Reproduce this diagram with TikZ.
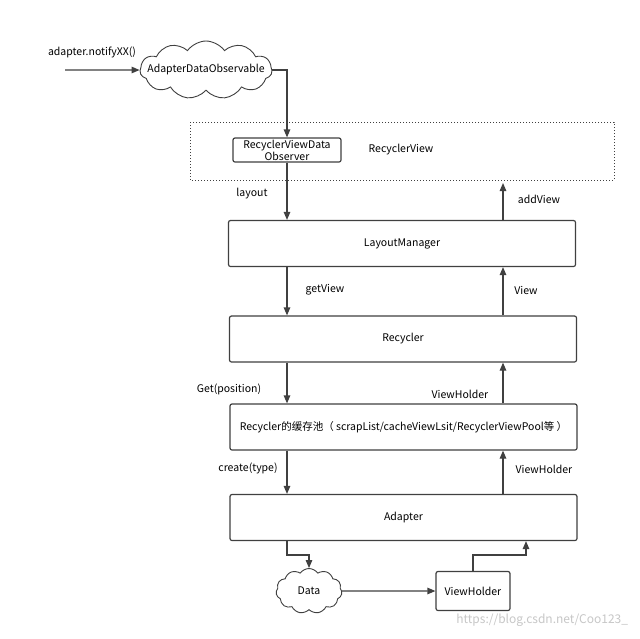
\documentclass[tikz,border=0pt]{standalone}
\usepackage{fontspec}
\setmainfont{Noto Sans CJK SC}
\usepackage{tikz}
\usetikzlibrary{shapes.symbols,arrows.meta}

\begin{document}
\begin{tikzpicture}[x=1pt,y=-1pt,
  font=\fontsize{10.5}{12}\selectfont,
  line width=1.2pt, draw=black!75,
  arr/.style={draw=black!75,-{Triangle[length=8pt,width=6.5pt]}},
  box/.style={draw=black!75,rounded corners=2pt,minimum width=347pt,minimum height=46pt,inner sep=0pt},
  puff/.style={cloud,draw=black!75,line width=0.9pt,cloud puffs=11,cloud puff arc=110,aspect=2.2,inner sep=0pt}]
\useasboundingbox[fill=white] (0,0) rectangle (640,638);
% top: notify and observable
\node[] (ntxt) at (92,52) {adapter.notifyXX()};
\node[puff,minimum width=132pt,minimum height=58pt] (ado) at (206,70) {};
\node[] (adotxt) at (ado) {AdapterDataObservable};
\coordinate (nin) at (65,70);
\draw[arr] (nin) -- (ado.west);
% recyclerview
\draw[dotted,line width=1pt] (190,122) rectangle (614,180);
\node[draw=black!75,rounded corners=2pt,minimum width=108pt,minimum height=24pt,inner sep=0pt,
  align=center,font=\fontsize{10.5}{10}\selectfont] (obs) at (287,150) {RecyclerViewData\\Observer};
\node[] (rv) at (401,150) {RecyclerView};
\draw[arr] (ado.east) -| (obs.north);
\coordinate (rx) at (503,0);
\coordinate (rx2) at (526,0);
\coordinate (rvb) at (0,183);
% boxes
\node[box] (lm) at (402,243.5) {LayoutManager};
\node[box] (rc) at (403,339) {Recycler};
\node[box] (pool) at (403.5,427) {Recycler的缓存池（ scrapList/cacheViewLsit/RecyclerViewPool等 ）};
\node[box] (ad) at (403.5,517.5) {Adapter};
% down arrows
\draw[arr] (obs.south) -- (lm.north -| obs);
\draw[arr] (lm.south -| obs) -- (rc.north -| obs);
\draw[arr] (rc.south -| obs) -- (pool.north -| obs);
\draw[arr] (pool.south -| obs) -- (ad.north -| obs);
\node[] at (252,194) {layout};
\node[] at (325,290) {getView};
\node[] at (229,389) {Get(position)};
\node[] at (248,468) {create(type)};
% up arrows
\draw[arr] (lm.north -| rx) -- (rvb -| rx);
\draw[arr] (rc.north -| rx) -- (lm.south -| rx);
\draw[arr] (pool.north -| rx) -- (rc.south -| rx);
\draw[arr] (ad.north -| rx) -- (pool.south -| rx);
\node[] at (539,199) {addView};
\node[] at (526,290) {View};
\node[] at (460,394) {ViewHolder};
\node[] at (544,469) {ViewHolder};
% bottom
\node[puff,minimum width=66pt,minimum height=45pt,aspect=1.6] (data) at (309,591) {Data};
\node[draw=black!75,rounded corners=2pt,minimum width=74pt,minimum height=39pt,inner sep=0pt] (vh) at (473,591) {ViewHolder};
\draw[arr] (ad.south -| obs) -- (287,555) -| (data.north);
\draw[arr] (data.east) -- (vh.west);
\draw[arr] (vh.north) -- (473,555) -| (ad.south -| rx2);
\node[text=black!22,font=\fontsize{12}{12}\selectfont,anchor=east] (wm) at (632,620) {https://blog.csdn.net/Coo123\_};
\end{tikzpicture}
\end{document}
